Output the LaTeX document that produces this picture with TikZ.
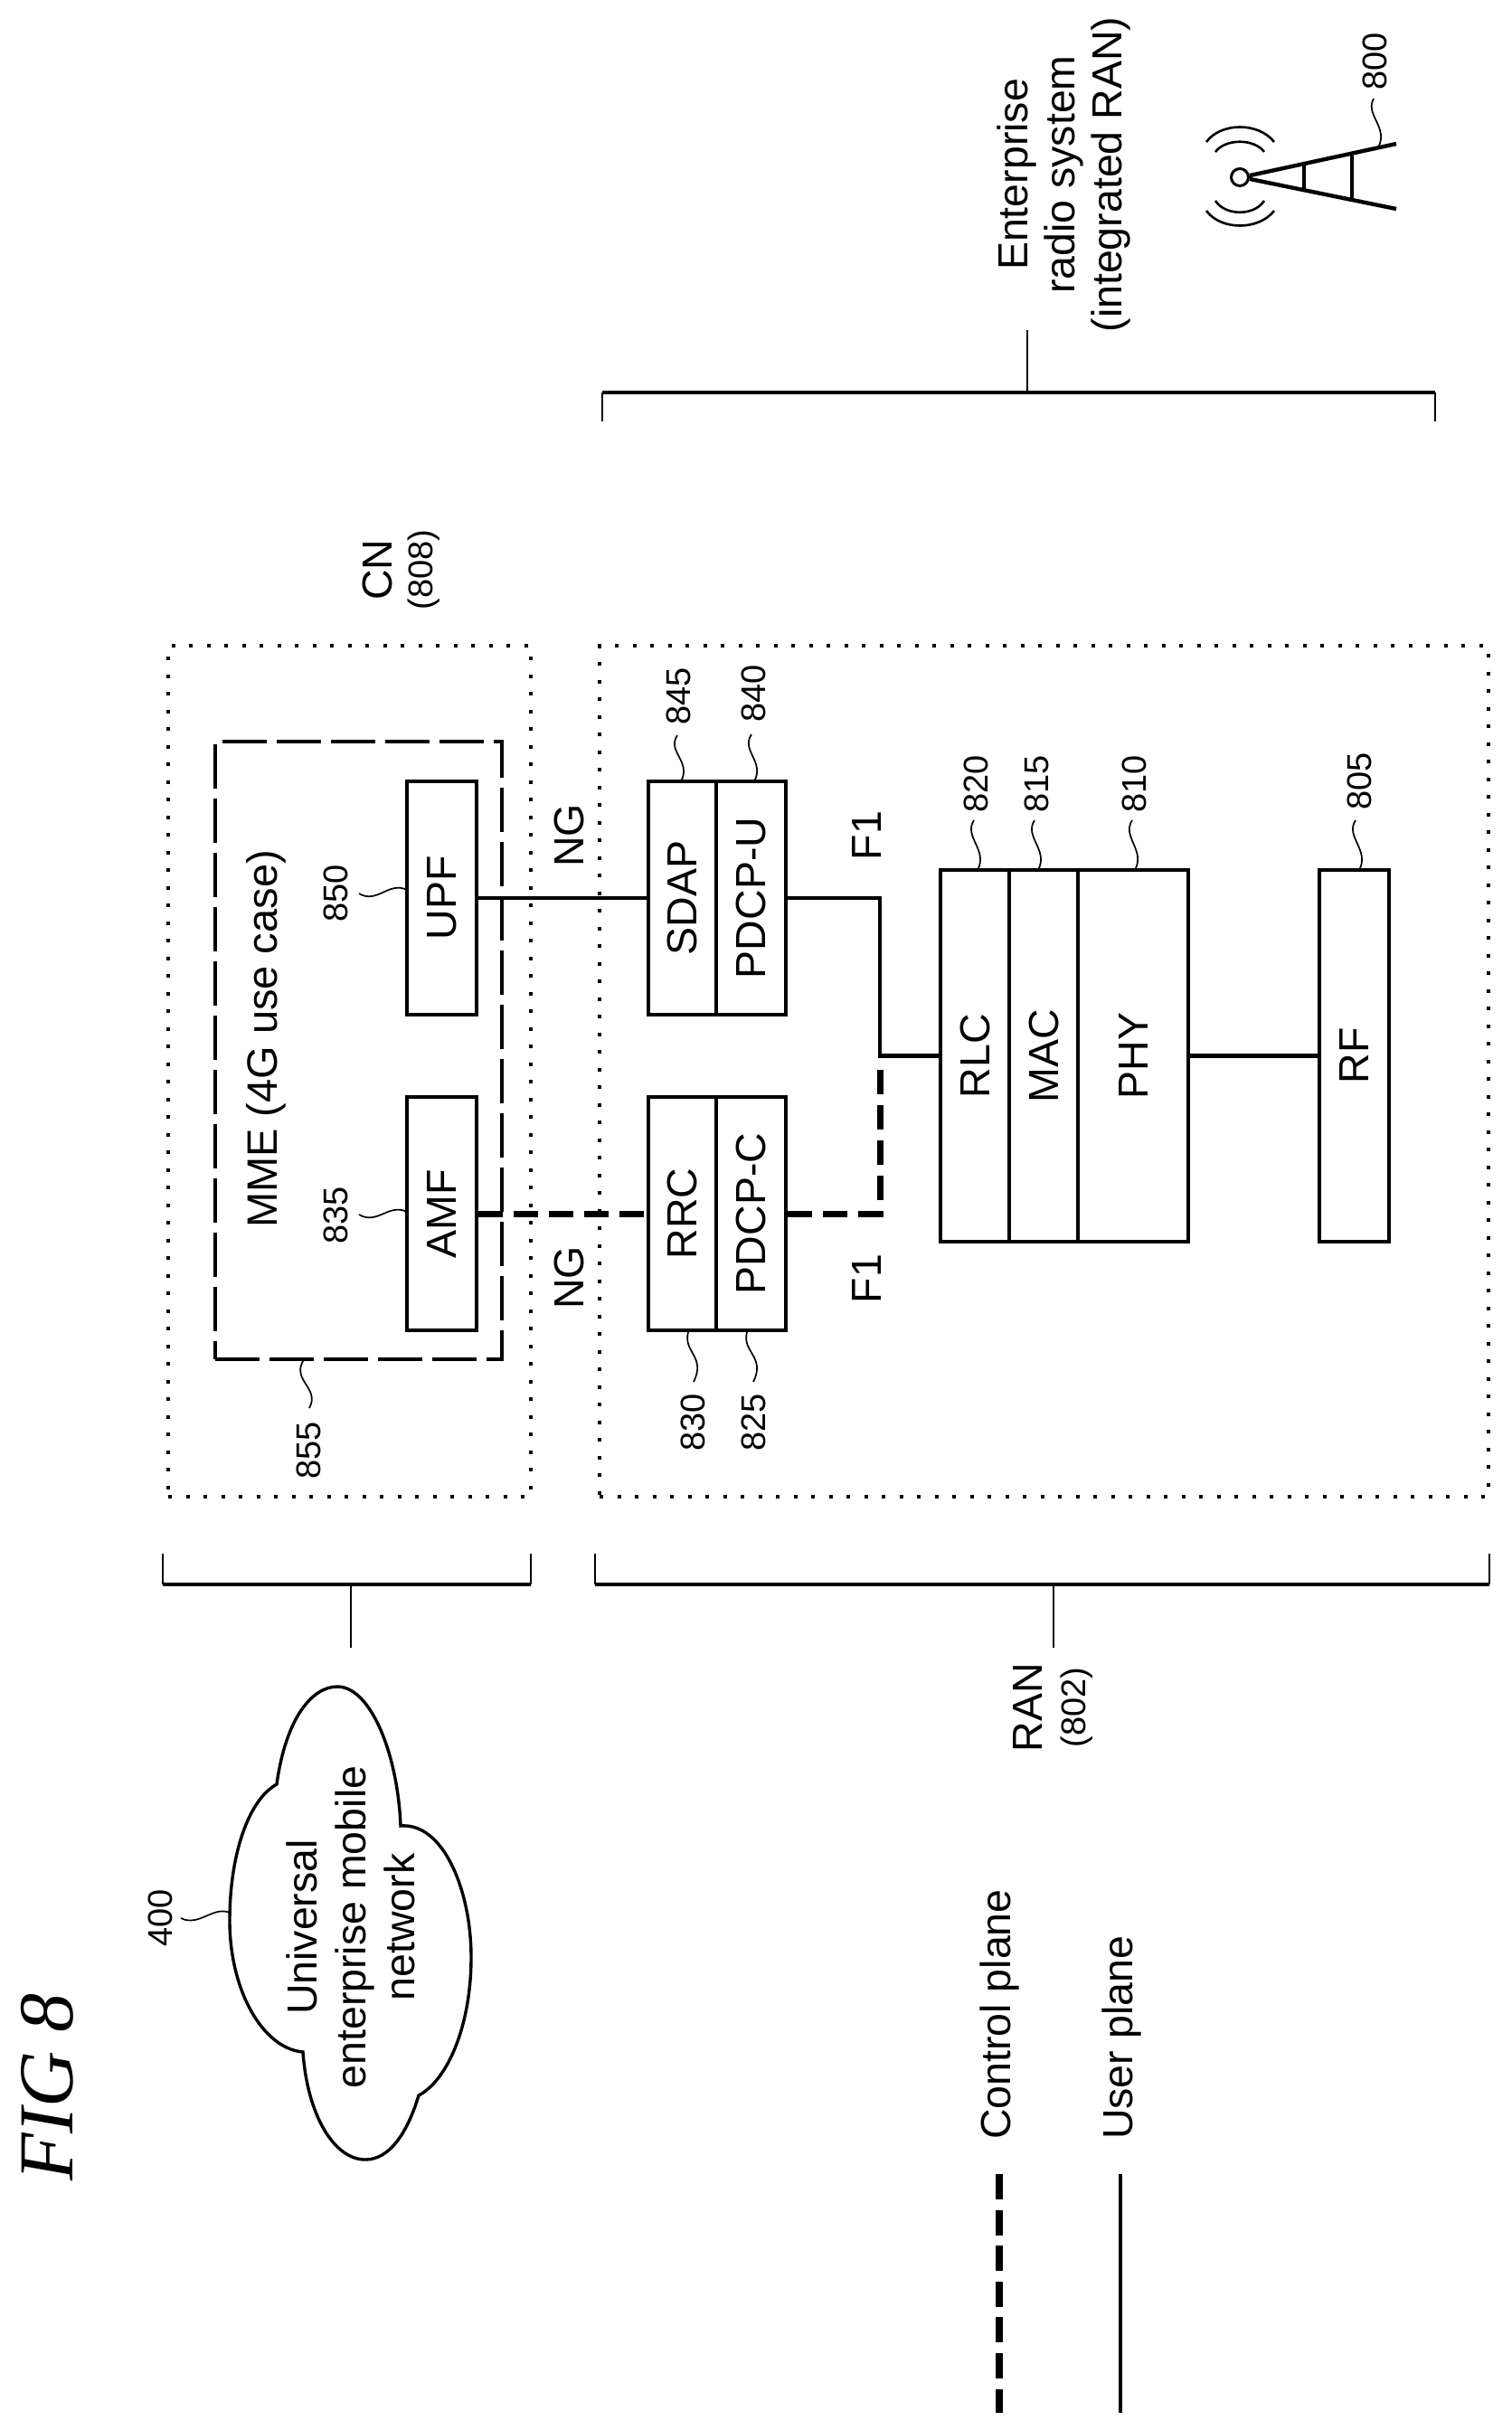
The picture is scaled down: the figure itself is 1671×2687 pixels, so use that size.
\documentclass[tikz,border=0pt]{standalone}
\usepackage{fontspec}
\usepackage{graphicx}
\setmainfont{Liberation Sans}
\newfontfamily\figserif{Liberation Serif}
\tikzset{
  lab/.style={rotate=90,anchor=base,inner sep=0pt,font=\fontsize{46.5}{52}\selectfont},
  num/.style={rotate=90,anchor=base,inner sep=0pt,font=\fontsize{38}{40}\selectfont},
  multi/.style={anchor=center,align=center},
  block/.style={draw,line width=3.6pt,inner sep=0pt,font=\fontsize{46.5}{52}\selectfont,line join=miter},
  dotbox/.style={draw,line width=4pt,dash pattern=on 4pt off 15.5pt,inner sep=0pt},
  mmebox/.style={draw,line width=3.6pt,dash pattern=on 49pt off 11pt,inner sep=0pt},
  uline/.style={line width=4.4pt},
  cline/.style={line width=7pt,dash pattern=on 27pt off 12pt},
  leader/.style={line width=1.7pt},
  thin br/.style={line width=1.8pt},
  thick br/.style={line width=4.2pt},
  tower/.style={line width=4.4pt},
  wave/.style={line width=2.6pt},
}
\newcommand{\vsq}[4]{\draw[leader] (#1,#2) .. controls +(-12,18) and +(12,-22) .. (#3,#4);}
\newcommand{\hsq}[4]{\draw[leader] (#1,#2) .. controls +(20,12) and +(-20,-10) .. (#3,#4);}
\newcommand{\rt}[1]{\rotatebox{90}{#1}}
\begin{document}
\begin{tikzpicture}[x=1pt,y=-1pt]
\fill[white] (0,0) rectangle (1671,2687);
\useasboundingbox (0,0) rectangle (1671,2687);

% title
\node[rotate=90,anchor=base,inner sep=0pt,font=\figserif\itshape\fontsize{86}{90}\selectfont] (figt) at (80,2308) {FIG 8};

% dotted boxes
\node[dotbox,minimum width=401pt,minimum height=941pt] (cn) at (386.5,1184.5) {};
\node[dotbox,minimum width=983pt,minimum height=941pt] (ran) at (1154.5,1184.5) {};
\node[mmebox,minimum width=317pt,minimum height=683pt] (mme) at (396.5,1161.5) {};
\node[lab,font=\fontsize{47}{52}\selectfont] (mmet) at (306,1149) {MME (4G use case)};

% blocks
\node[block,minimum width=77pt,minimum height=258pt] (upf) at (488.5,993) {\rt{UPF}};
\node[block,minimum width=77pt,minimum height=258pt] (amf) at (488.5,1342) {\rt{AMF}};
\node[block,minimum width=75pt,minimum height=258pt] (sdap) at (754.5,993) {\rt{SDAP}};
\node[block,minimum width=77pt,minimum height=258pt] (pdcpu) at (830.5,993) {\rt{PDCP-U}};
\node[block,minimum width=75pt,minimum height=258pt] (rrc) at (754.5,1342) {\rt{RRC}};
\node[block,minimum width=77pt,minimum height=258pt] (pdcpc) at (830.5,1342) {\rt{PDCP-C}};
\node[block,minimum width=76pt,minimum height=411pt] (rlc) at (1078,1167.5) {\rt{RLC}};
\node[block,minimum width=76pt,minimum height=411pt] (mac) at (1154,1167.5) {\rt{MAC}};
\node[block,minimum width=122pt,minimum height=411pt] (phy) at (1253,1167.5) {\rt{PHY}};
\node[block,minimum width=77pt,minimum height=411pt] (rf) at (1497.5,1167.5) {\rt{RF}};

% connectors
\coordinate (junc) at (973,1167.5);
\coordinate (cdn) at (973,1342);
\coordinate (cup) at (973,1180);
\coordinate (uup) at (973,993);
\draw[uline] (upf.east) -- (sdap.west);
\draw[uline,line join=miter] (pdcpu.east) -- (uup) -- (junc) -- (rlc.west);
\draw[uline] (phy.east) -- (rf.west);
\draw[cline] (amf.east) -- (rrc.west);
\draw[cline,line join=miter] (pdcpc.east) -- (cdn) -- (cup);

% interface labels
\node[lab] (ng1) at (645,924) {NG};
\node[lab] (ng2) at (645,1413) {NG};
\node[lab] (f1a) at (974,924) {F1};
\node[lab] (f1b) at (974,1414) {F1};

% reference numbers
\node[num] (n850) at (384,988) {850};
\node[num] (n835) at (384,1344) {835};
\node[num] (n845) at (763,770) {845};
\node[num] (n840) at (846,767) {840};
\node[num] (n830) at (779,1573) {830};
\node[num] (n825) at (846,1573) {825};
\node[num] (n855) at (354,1604) {855};
\node[num] (n820) at (1092.5,867) {820};
\node[num] (n815) at (1159,867) {815};
\node[num] (n810) at (1267,867) {810};
\node[num] (n805) at (1516,864) {805};
\node[num] (n800) at (1533,68) {800};
\node[num] (n400) at (190,2121) {400};
\hsq{397}{988}{450}{984}
\hsq{397}{1343}{450}{1340}
\vsq{749}{813}{753}{864}
\vsq{831}{812}{834}{864}
\vsq{1077}{907}{1081}{962}
\vsq{1144}{907}{1148}{962}
\vsq{1252}{907}{1255}{962}
\vsq{1499}{907}{1503}{962}
\draw[leader] (761,1473) .. controls +(-6,22) and +(14,-28) .. (767,1528);
\draw[leader] (826,1473) .. controls +(-6,22) and +(14,-28) .. (833,1528);
\draw[leader] (335,1505) .. controls +(-12,22) and +(12,-22) .. (342,1557);
\draw[leader] (1519,109) .. controls +(-10,18) and +(12,-22) .. (1524,163);
\draw[leader] (200,2121) .. controls +(20,10) and +(-18,-8) .. (254,2115);

% brackets
\coordinate (b1a) at (666,466); \coordinate (b1b) at (666,434);
\coordinate (b1c) at (1587,434); \coordinate (b1d) at (1587,466);
\coordinate (b1e) at (1136,434); \coordinate (b1f) at (1136,365);
\draw[thick br] (b1b) -- (b1c);
\draw[thin br] (b1a) -- (b1b) (b1c) -- (b1d) (b1e) -- (b1f);
\coordinate (b2a) at (180,1718); \coordinate (b2b) at (180,1752);
\coordinate (b2c) at (587,1752); \coordinate (b2d) at (587,1718);
\coordinate (b2e) at (388,1752); \coordinate (b2f) at (388,1822);
\draw[thick br] (b2b) -- (b2c);
\draw[thin br] (b2a) -- (b2b) (b2c) -- (b2d) (b2e) -- (b2f);
\coordinate (b3a) at (658,1718); \coordinate (b3b) at (658,1752);
\coordinate (b3c) at (1647,1752); \coordinate (b3d) at (1647,1718);
\coordinate (b3e) at (1165,1752); \coordinate (b3f) at (1165,1822);
\draw[thick br] (b3b) -- (b3c);
\draw[thin br] (b3a) -- (b3b) (b3c) -- (b3d) (b3e) -- (b3f);

% bracket labels
\node[lab,multi,font=\fontsize{46.5}{52}\selectfont] (ers) at (1176.5,193) {Enterprise\\radio system\\(integrated RAN)};
\node[lab] (cnt) at (433,630) {CN};
\node[num] (cnn) at (478,630) {(808)};
\node[lab] (rant) at (1152,1888) {RAN};
\node[num] (rann) at (1200,1888) {(802)};

% tower
\node[draw,circle,line width=3pt,minimum size=19pt,inner sep=0pt] (ant) at (1371,196) {};
\coordinate (tl) at (1544,159); \coordinate (tr) at (1544,231);
\draw[tower] (ant.10) -- (tl);
\draw[tower] (ant.-10) -- (tr);
\draw[tower] (1442,180) -- (1442,210);
\draw[tower] (1495,170) -- (1495,220);
\draw[wave] (1334,157) .. controls (1350,135) and (1392,135) .. (1409,157);
\draw[wave] (1344,168) .. controls (1355,153) and (1387,153) .. (1398,168);
\draw[wave] (1344,222) .. controls (1355,239) and (1387,239) .. (1398,222);
\draw[wave] (1334,233) .. controls (1350,255) and (1392,255) .. (1409,233);

% cloud
\draw[line width=3.4pt,line join=miter] (306,1973)
 .. controls (316,1900) and (345,1865) .. (373,1865)
 .. controls (410,1865) and (440,1940) .. (443,2019)
 .. controls (490,2015) and (521,2090) .. (521,2164)
 .. controls (521,2240) and (495,2300) .. (463,2317)
 .. controls (450,2360) and (430,2388) .. (404,2388)
 .. controls (370,2388) and (340,2340) .. (335,2269)
 .. controls (290,2265) and (254,2200) .. (254,2124)
 .. controls (254,2050) and (275,1990) .. (306,1973) -- cycle;
\node[lab,multi,font=\fontsize{46.5}{54}\selectfont] (cloudt) at (387.5,2131) {Universal\\enterprise mobile\\network};

% legend
\coordinate (l1a) at (1105,2404); \coordinate (l1b) at (1105,2668);
\coordinate (l2a) at (1239,2404); \coordinate (l2b) at (1239,2668);
\draw[line width=8pt,dash pattern=on 28pt off 11.6pt] (l1a) -- (l1b);
\draw[uline] (l2a) -- (l2b);
\node[lab,anchor=base west] (lc) at (1117,2366) {Control plane};
\node[lab,anchor=base west] (lu) at (1252,2366) {User plane};
\end{tikzpicture}
\end{document}
